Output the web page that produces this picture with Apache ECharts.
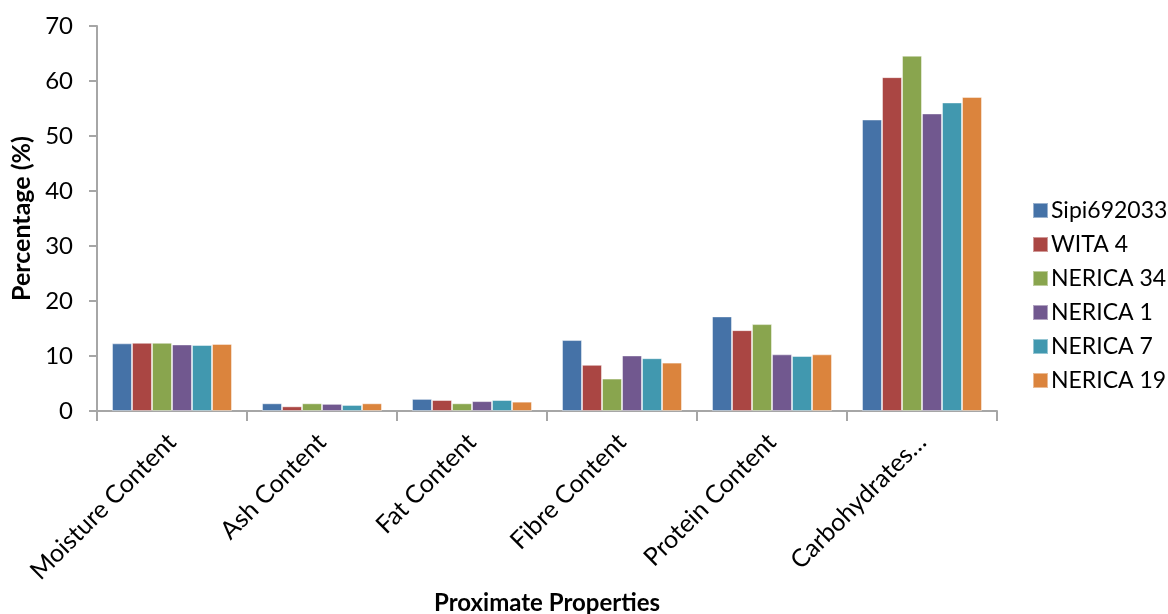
<!DOCTYPE html>
<html>
<head>
<meta charset="utf-8">
<script src="https://cdn.jsdelivr.net/npm/echarts@6/dist/echarts.min.js"></script>
<style>
  html, body { margin: 0; padding: 0; background: #fff; }
  #chart { width: 1168px; height: 614px; }
</style>
</head>
<body>
<div id="chart"></div>
<script>
// Proximate composition of rice varieties (%)
const categories = ['Moisture Content', 'Ash Content', 'Fat Content', 'Fibre Content', 'Protein Content', 'Carbohydrates\u2026'];
const varieties = ['Sipi692033', 'WITA 4', 'NERICA 34', 'NERICA 1', 'NERICA 7', 'NERICA 19'];

const sipi692033 = [12.3, 1.4, 2.2, 12.9, 17.2, 53.0];
const wita4      = [12.4, 0.85, 2.0, 8.4, 14.7, 60.7];
const nerica34   = [12.4, 1.4, 1.4, 5.9, 15.8, 64.6];
const nerica1    = [12.1, 1.3, 1.8, 10.1, 10.3, 54.1];
const nerica7    = [12.0, 1.1, 2.0, 9.6, 10.0, 56.1];
const nerica19   = [12.2, 1.4, 1.7, 8.8, 10.3, 57.1];

const yTicks = [0, 10, 20, 30, 40, 50, 60, 70];

const seriesValues = [sipi692033, wita4, nerica34, nerica1, nerica7, nerica19];
const colors = ['#4572A7', '#AA4643', '#89A54E', '#71588F', '#4198AF', '#DB843D'];

const font = 'Lato, "Open Sans", sans-serif';
const axisGray = '#A6A6A6';

const chart = echarts.init(document.getElementById('chart'), null, { renderer: 'canvas' });

chart.setOption({
  animation: false,
  color: colors,
  grid: {
    left: 97, right: 171, top: 26, bottom: 203,
    containLabel: false, outerBoundsMode: 'none'
  },
  legend: {
    orient: 'vertical',
    left: 1027,
    top: 194,
    itemWidth: 15,
    itemHeight: 15,
    itemGap: 11,
    icon: 'rect',
    textStyle: { fontFamily: font, fontSize: 23, color: '#000', padding: [0, 0, 0, -2] },
    data: varieties
  },
  xAxis: {
    type: 'category',
    data: categories,
    name: 'Proximate Properties',
    nameLocation: 'middle',
    nameGap: 178,
    nameTextStyle: { fontFamily: font, fontSize: 24, fontWeight: 'bold', color: '#000' },
    axisLine: { lineStyle: { color: axisGray, width: 2 } },
    axisTick: { show: true, length: 10, alignWithLabel: false, lineStyle: { color: axisGray, width: 2 } },
    axisLabel: {
      rotate: 45, margin: 27, verticalAlign: 'middle',
      fontFamily: font, fontSize: 25, color: '#000', interval: 0
    },
    splitLine: { show: false }
  },
  yAxis: {
    type: 'value',
    min: yTicks[0],
    max: yTicks[yTicks.length - 1],
    interval: yTicks[1] - yTicks[0],
    name: 'Percentage (%)',
    nameLocation: 'middle',
    nameGap: 63,
    nameRotate: 90,
    nameTextStyle: { fontFamily: font, fontSize: 25, fontWeight: 'bold', color: '#000' },
    axisLine: { show: true, lineStyle: { color: axisGray, width: 2 } },
    axisTick: { show: true, length: 8, lineStyle: { color: axisGray, width: 2 } },
    axisLabel: { margin: 24, fontFamily: font, fontSize: 24, color: '#000' },
    splitLine: { show: false }
  },
  series: varieties.map((name, i) => ({
    name: name,
    type: 'bar',
    data: seriesValues[i],
    barGap: '0%',
    barCategoryGap: '20%',
    itemStyle: { borderColor: 'rgba(255,255,255,0.45)', borderWidth: 1 }
  }))
});
</script>
</body>
</html>
